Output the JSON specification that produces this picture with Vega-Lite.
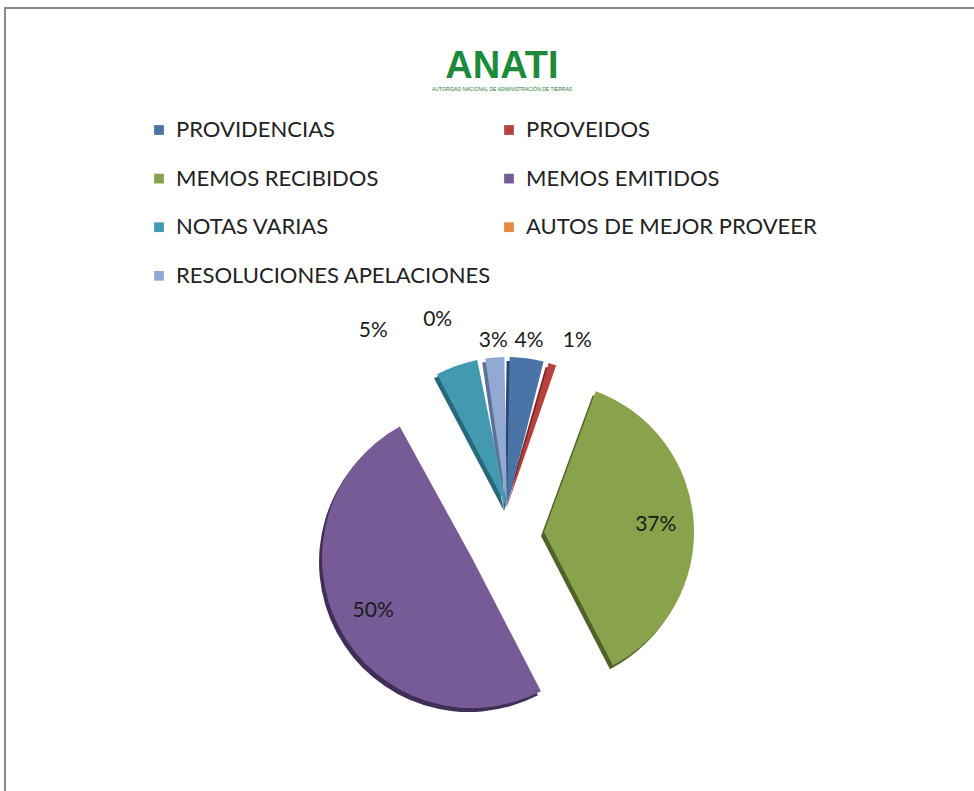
{
  "$schema": "https://vega.github.io/schema/vega-lite/v6.json",
  "width": 974,
  "height": 791,
  "autosize": {"type": "fit", "contains": "padding"},
  "padding": {"left": 5, "top": 8, "right": -5, "bottom": -5},
  "background": "white",
  "view": {"stroke": "#8a8a8a", "strokeWidth": 2, "fill": "white"},
  "config": {
    "view": {"stroke": "#8a8a8a", "strokeWidth": 2},
    "font": "Lato"
  },
  "title": {
    "text": "ANATI",
    "subtitle": "AUTORIDAD NACIONAL DE ADMINISTRACIÓN DE TIERRAS",
    "anchor": "middle",
    "frame": "group",
    "orient": "top",
    "offset": -84,
    "dx": 10,
    "color": "#1E8A3C",
    "font": "Liberation Sans",
    "fontSize": 38,
    "fontWeight": "bold",
    "subtitleFont": "Liberation Sans",
    "subtitleFontSize": 5,
    "subtitleColor": "#2a7a3a",
    "subtitlePadding": 1
  },
  "data": {
    "values": [
      {"cat": "PROVIDENCIAS", "v": 4.2, "lbl": "4%", "i": 1},
      {"cat": "PROVEIDOS", "v": 1.4, "lbl": "1%", "i": 2},
      {"cat": "MEMOS RECIBIDOS", "v": 36.8, "lbl": "37%", "i": 3},
      {"cat": "MEMOS EMITIDOS", "v": 49.6, "lbl": "50%", "i": 4},
      {"cat": "NOTAS VARIAS", "v": 5.1, "lbl": "5%", "i": 5},
      {"cat": "AUTOS DE MEJOR  PROVEER", "v": 0.3, "lbl": "0%", "i": 6},
      {"cat": "RESOLUCIONES APELACIONES", "v": 2.6, "lbl": "3%", "i": 7}
    ]
  },
  "encoding": {
    "theta": {"field": "v", "type": "quantitative", "stack": true},
    "order": {"field": "i", "type": "quantitative"}
  },
  "layer": [
    {
      "mark": {"type": "arc", "outerRadius": 150, "padAngle": 0.035, "xOffset": 12, "yOffset": 109},
      "encoding": {
        "color": {"field": "cat", "type": "nominal", "legend": null,
          "scale": {"domain": ["PROVIDENCIAS", "PROVEIDOS", "MEMOS RECIBIDOS", "MEMOS EMITIDOS", "NOTAS VARIAS", "AUTOS DE MEJOR  PROVEER", "RESOLUCIONES APELACIONES"],
            "range": ["#2c4a73", "#7a2a28", "#4f6329", "#3f2f57", "#25697a", "#9c5a1e", "#5d7098"]}},
        "opacity": {"condition": {"test": "datum.v < 10", "value": 1}, "value": 0}
      }
    },
    {
      "mark": {"type": "arc", "outerRadius": 150, "xOffset": 49, "yOffset": 134},
      "encoding": {
        "color": {"field": "cat", "type": "nominal", "legend": null,
          "scale": {"domain": ["PROVIDENCIAS", "PROVEIDOS", "MEMOS RECIBIDOS", "MEMOS EMITIDOS", "NOTAS VARIAS", "AUTOS DE MEJOR  PROVEER", "RESOLUCIONES APELACIONES"],
            "range": ["#2c4a73", "#7a2a28", "#4f6329", "#3f2f57", "#25697a", "#9c5a1e", "#5d7098"]}},
        "opacity": {"condition": {"test": "datum.cat === 'MEMOS RECIBIDOS'", "value": 1}, "value": 0}
      }
    },
    {
      "mark": {"type": "arc", "outerRadius": 150, "xOffset": -23, "yOffset": 160},
      "encoding": {
        "color": {"field": "cat", "type": "nominal", "legend": null,
          "scale": {"domain": ["PROVIDENCIAS", "PROVEIDOS", "MEMOS RECIBIDOS", "MEMOS EMITIDOS", "NOTAS VARIAS", "AUTOS DE MEJOR  PROVEER", "RESOLUCIONES APELACIONES"],
            "range": ["#2c4a73", "#7a2a28", "#4f6329", "#3f2f57", "#25697a", "#9c5a1e", "#5d7098"]}},
        "opacity": {"condition": {"test": "datum.cat === 'MEMOS EMITIDOS'", "value": 1}, "value": 0}
      }
    },
    {
      "mark": {"type": "arc", "outerRadius": 150, "padAngle": 0.035, "xOffset": 15, "yOffset": 105},
      "encoding": {
        "color": {"field": "cat", "type": "nominal",
          "scale": {"domain": ["PROVIDENCIAS", "PROVEIDOS", "MEMOS RECIBIDOS", "MEMOS EMITIDOS", "NOTAS VARIAS", "AUTOS DE MEJOR  PROVEER", "RESOLUCIONES APELACIONES"],
            "range": ["#4a73a8", "#b8413e", "#88a34c", "#765b96", "#4399af", "#e8883b", "#92a9d4"]},
          "legend": {
            "title": null, "orient": "none", "legendX": 143, "legendY": 111,
            "columns": 2, "direction": "horizontal", "padding": 0,
            "symbolType": "square", "symbolSize": 95, "symbolStrokeWidth": 0,
            "labelFont": "Lato", "labelFontSize": 22, "labelColor": "#222222", "labelLimit": 500,
            "labelOffset": 6, "columnPadding": 7, "rowPadding": 26.6
          }},
        "opacity": {"condition": {"test": "datum.v < 10", "value": 1}, "value": 0}
      }
    },
    {
      "mark": {"type": "arc", "outerRadius": 150, "xOffset": 52, "yOffset": 130},
      "encoding": {
        "color": {"field": "cat", "type": "nominal", "legend": null,
          "scale": {"domain": ["PROVIDENCIAS", "PROVEIDOS", "MEMOS RECIBIDOS", "MEMOS EMITIDOS", "NOTAS VARIAS", "AUTOS DE MEJOR  PROVEER", "RESOLUCIONES APELACIONES"],
            "range": ["#4a73a8", "#b8413e", "#88a34c", "#765b96", "#4399af", "#e8883b", "#92a9d4"]}},
        "opacity": {"condition": {"test": "datum.cat === 'MEMOS RECIBIDOS'", "value": 1}, "value": 0}
      }
    },
    {
      "mark": {"type": "arc", "outerRadius": 150, "xOffset": -20, "yOffset": 156},
      "encoding": {
        "color": {"field": "cat", "type": "nominal", "legend": null,
          "scale": {"domain": ["PROVIDENCIAS", "PROVEIDOS", "MEMOS RECIBIDOS", "MEMOS EMITIDOS", "NOTAS VARIAS", "AUTOS DE MEJOR  PROVEER", "RESOLUCIONES APELACIONES"],
            "range": ["#4a73a8", "#b8413e", "#88a34c", "#765b96", "#4399af", "#e8883b", "#92a9d4"]}},
        "opacity": {"condition": {"test": "datum.cat === 'MEMOS EMITIDOS'", "value": 1}, "value": 0}
      }
    },
    {
      "mark": {"type": "text", "xOffset": 52, "yOffset": 130, "fontSize": 21, "font": "Lato", "color": "#1a1a1a"},
      "encoding": {
        "radius": {"value": 112},
        "text": {"condition": {"test": "datum.cat === 'MEMOS RECIBIDOS'", "field": "lbl", "type": "nominal"}, "value": ""}
      }
    },
    {
      "mark": {"type": "text", "xOffset": -20, "yOffset": 156, "fontSize": 21, "font": "Lato", "color": "#1a1a1a"},
      "encoding": {
        "radius": {"value": 112},
        "text": {"condition": {"test": "datum.cat === 'MEMOS EMITIDOS'", "field": "lbl", "type": "nominal"}, "value": ""}
      }
    },
    {
      "mark": {"type": "text", "xOffset": 15, "yOffset": 105, "fontSize": 21, "font": "Lato", "color": "#1a1a1a"},
      "encoding": {
        "radius": {"value": 167},
        "text": {"condition": {"test": "datum.cat === 'PROVIDENCIAS' || datum.cat === 'RESOLUCIONES APELACIONES'", "field": "lbl", "type": "nominal"}, "value": ""}
      }
    },
    {
      "mark": {"type": "text", "xOffset": 15, "yOffset": 105, "thetaOffset": 0.093, "fontSize": 21, "font": "Lato", "color": "#1a1a1a"},
      "encoding": {
        "radius": {"value": 180},
        "text": {"condition": {"test": "datum.cat === 'PROVEIDOS'", "field": "lbl", "type": "nominal"}, "value": ""}
      }
    },
    {
      "mark": {"type": "text", "xOffset": 15, "yOffset": 105, "thetaOffset": -0.183, "fontSize": 21, "font": "Lato", "color": "#1a1a1a"},
      "encoding": {
        "radius": {"value": 199},
        "text": {"condition": {"test": "datum.cat === 'AUTOS DE MEJOR  PROVEER'", "field": "lbl", "type": "nominal"}, "value": ""}
      }
    },
    {
      "mark": {"type": "text", "xOffset": 15, "yOffset": 105, "thetaOffset": -0.307, "fontSize": 21, "font": "Lato", "color": "#1a1a1a"},
      "encoding": {
        "radius": {"value": 221},
        "text": {"condition": {"test": "datum.cat === 'NOTAS VARIAS'", "field": "lbl", "type": "nominal"}, "value": ""}
      }
    }
  ],
  "resolve": {"scale": {"color": "independent"}, "legend": {"color": "independent"}}
}
